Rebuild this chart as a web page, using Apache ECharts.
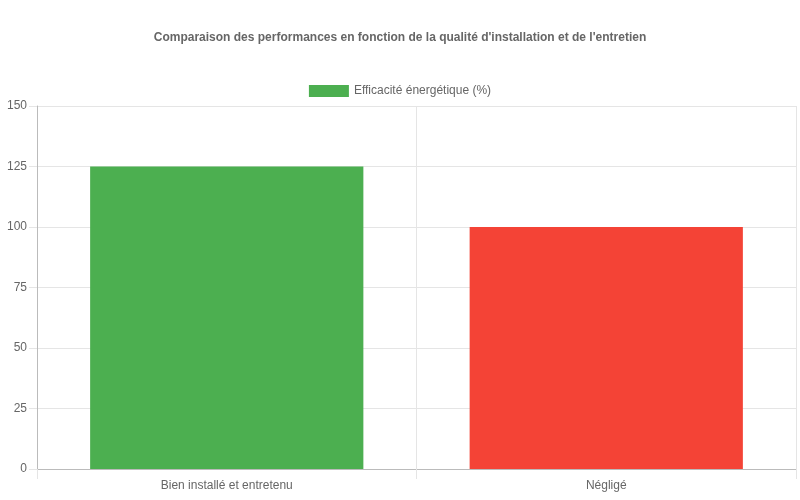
<!DOCTYPE html>
<html lang="fr" style="height: 100%">
<head>
  <meta charset="utf-8">
</head>
<body style="height: 100%; margin: 0; background: #fff">
  <div id="container" style="width: 800px; height: 500px"></div>
  <script type="text/javascript" src="https://fastly.jsdelivr.net/npm/echarts@6/dist/echarts.min.js"></script>
  <script type="text/javascript">
    var categories = ['Bien installé et entretenu', 'Négligé'];
    var values = [125, 100];
    var barColors = ['#4CAF50', '#F44336'];
    var seriesName = 'Efficacité énergétique (%)';

    var font = '"Liberation Sans", Arial, Helvetica, sans-serif';
    var myChart = echarts.init(document.getElementById('container'));

    var option =
    {
        animation: false,
        textStyle: { fontFamily: font },
        title:
        {
            text: "Comparaison des performances en fonction de la qualité d'installation et de l'entretien",
            left: 'center',
            top: 27,
            textStyle:
            {
                fontFamily: font,
                fontSize: 12,
                fontWeight: 'bold',
                color: '#666'
            }
        },
        legend:
        {
            top: 80,
            left: 'center',
            itemWidth: 40,
            itemHeight: 12,
            itemGap: 10,
            icon: 'rect',
            textStyle: { fontFamily: font, fontSize: 12, color: '#666' },
            data: [{ name: seriesName, itemStyle: { color: barColors[0] } }]
        },
        grid:
        {
            left: 37,
            right: 4,
            top: 106,
            bottom: 31,
            containLabel: false
        },
        xAxis:
        {
            type: 'category',
            data: categories,
            axisLine: { show: true, lineStyle: { color: '#bbb' } },
            axisTick: { show: true, length: 10, lineStyle: { color: '#e5e5e5' } },
            axisLabel: { fontFamily: font, fontSize: 12, color: '#666', margin: 11 },
            splitLine: { show: true, lineStyle: { color: '#e5e5e5' } }
        },
        yAxis:
        {
            type: 'value',
            min: 0,
            max: 150,
            interval: 25,
            axisLine: { show: true, lineStyle: { color: '#bbb' } },
            axisTick: { show: true, length: 8, lineStyle: { color: '#e5e5e5' } },
            axisLabel: { fontFamily: font, fontSize: 12, color: '#666', margin: 10, padding: [2, 0, 0, 0] },
            splitLine: { show: true, lineStyle: { color: '#e5e5e5' } }
        },
        series:
        [
            {
                name: seriesName,
                type: 'bar',
                barCategoryGap: '28%',
                data: values.map(function(v, i)
                {
                    return { value: v, itemStyle: { color: barColors[i] } };
                })
            }
        ]
    };

    myChart.setOption(option);
  </script>
</body>
</html>
